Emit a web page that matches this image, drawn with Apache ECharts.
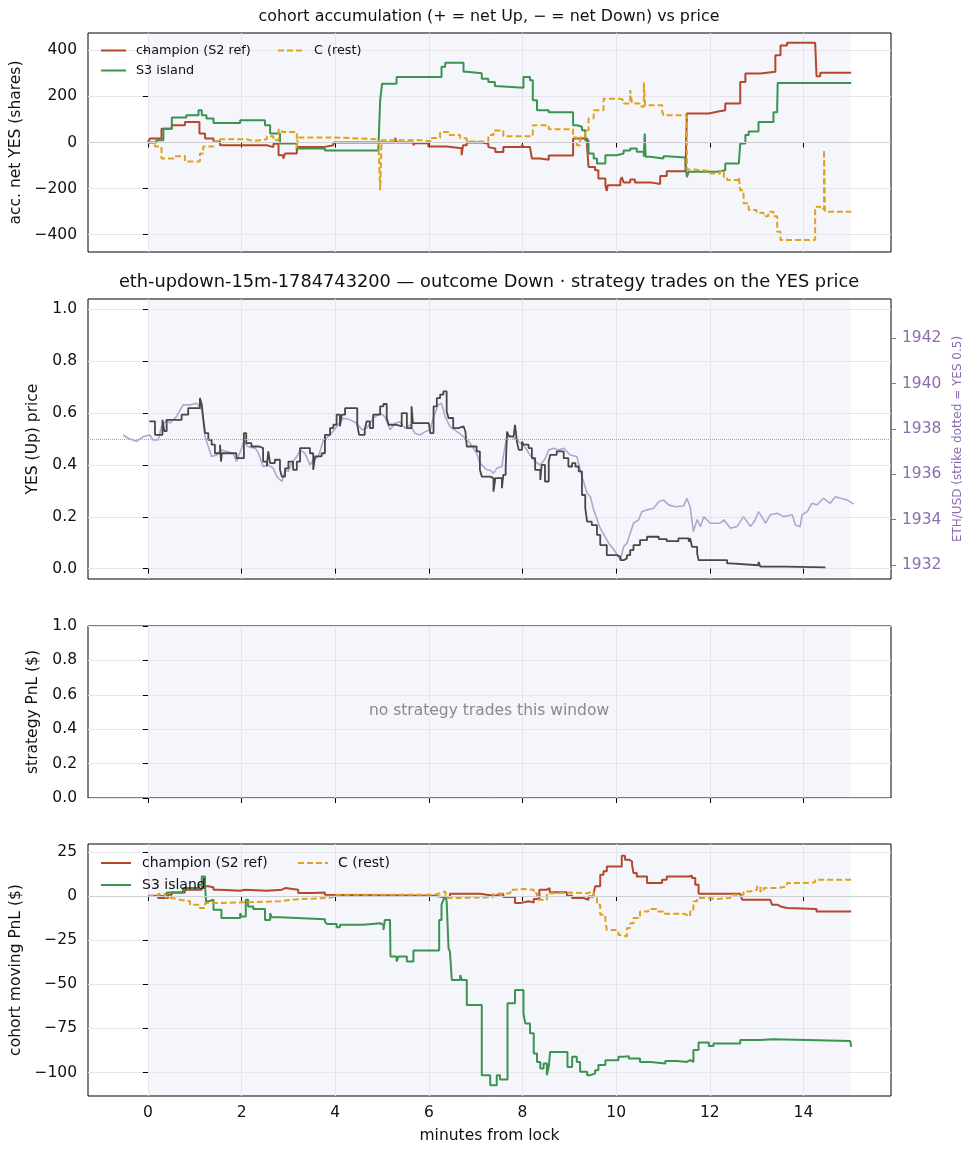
<!DOCTYPE html>
<html>
<head>
<meta charset="utf-8">
<script src="https://cdn.jsdelivr.net/npm/echarts@6/dist/echarts.min.js"></script>
<style>
html, body { margin: 0; padding: 0; background: #fff; }
#main { width: 973px; height: 1156px; }
</style>
</head>
<body>
<div id="main"></div>
<script>
// tick values
var xTicks = [0, 2, 4, 6, 8, 10, 12, 14];
var accTicks = [-400, -200, 0, 200, 400];
var yesTicks = [0, 0.2, 0.4, 0.6, 0.8, 1.0];
var ethTicks = [1932, 1934, 1936, 1938, 1940, 1942];
var pnlTicks = [-100, -75, -50, -25, 0, 25];

// cohort accumulation, net YES shares  [minute, shares]
var accChamp = [[0,0],[0.04,17],[0.29,60],[0.51,75],[0.79,89],[1.10,39],[1.22,17],[1.40,4],[1.54,-12],[2.54,-20],[2.68,-5],[2.79,-55],[2.89,-70],[2.93,-48],[3.18,-20],[3.75,-12],[3.96,0],[5.28,20],[5.31,0],[5.67,-12],[5.70,-3],[5.99,-17],[6.38,-25],[6.70,-55],[6.73,-12],[6.81,0],[7.13,-5],[7.27,-20],[7.31,-26],[7.42,-41],[7.59,-20],[7.99,-10],[8.02,-20],[8.16,-26],[8.20,-69],[8.38,-75],[8.56,-56],[9.08,17],[9.38,-20],[9.41,-106],[9.55,-120],[9.62,-156],[9.77,-185],[9.80,-210],[9.82,-185],[10.09,-165],[10.12,-150],[10.16,-173],[10.30,-160],[10.40,-173],[10.73,-180],[10.94,-145],[11.08,-125],[11.48,-117],[11.51,126],[11.98,133],[12.15,140],[12.33,169],[12.65,262],[12.76,299],[13.08,307],[13.40,378],[13.51,421],[13.65,433],[14.25,433],[14.28,287],[14.36,303],[15.02,303]];
var accS3 = [[0,0],[0.18,10],[0.33,60],[0.51,108],[0.82,118],[1.08,140],[1.15,118],[1.25,104],[1.40,85],[1.97,97],[2.50,75],[2.61,39],[2.82,-4],[3.18,-26],[3.78,-35],[4.92,-35],[4.96,183],[5.00,255],[5.31,284],[6.27,329],[6.35,346],[6.74,307],[6.81,300],[7.13,276],[7.27,262],[7.41,245],[7.45,238],[8.02,284],[8.16,270],[8.22,183],[8.31,140],[8.56,131],[9.08,75],[9.16,68],[9.27,53],[9.34,10],[9.41,-48],[9.52,-69],[9.59,-91],[9.77,-55],[10.01,-48],[10.16,-35],[10.30,-26],[10.44,-40],[10.59,-62],[10.61,39],[10.63,-62],[10.73,-69],[11.01,-60],[11.08,-65],[11.48,-83],[11.51,-150],[11.55,-127],[12.15,-120],[12.33,-91],[12.62,-95],[12.65,-4],[12.76,32],[12.83,48],[13.04,89],[13.36,131],[13.44,160],[13.45,258],[15.02,258]];
var accRest = [[0,0],[0.15,-17],[0.29,-69],[0.56,-60],[0.68,-58],[0.79,-82],[1.11,-48],[1.18,-17],[1.40,4],[1.54,14],[2.11,7],[2.25,14],[2.54,27],[2.68,10],[2.79,56],[2.86,46],[3.18,-26],[3.20,22],[3.96,14],[4.92,14],[4.96,-207],[4.99,10],[5.81,5],[6.03,20],[6.24,46],[6.42,32],[6.67,18],[6.81,4],[7.27,32],[7.38,52],[7.59,27],[8.22,75],[8.56,58],[9.08,22],[9.16,-12],[9.23,22],[9.34,53],[9.41,104],[9.52,140],[9.73,190],[10.09,183],[10.16,169],[10.30,227],[10.34,169],[10.54,155],[10.59,260],[10.62,162],[10.98,137],[11.01,118],[11.51,-117],[11.65,-124],[12.01,-134],[12.22,-124],[12.30,-150],[12.37,-163],[12.62,-150],[12.65,-207],[12.72,-264],[12.83,-293],[13.00,-305],[13.15,-320],[13.25,-300],[13.36,-320],[13.44,-387],[13.51,-423],[14.25,-279],[14.36,-290],[14.44,-32],[14.46,-300],[15.02,-300]];

// YES (Up) price and ETH/USD  [minute, value]
var yesPx = [[0.03,0.568],[0.15,0.516],[0.31,0.574],[0.35,0.53],[0.40,0.574],[0.72,0.594],[0.86,0.619],[1.11,0.658],[1.15,0.632],[1.18,0.581],[1.22,0.523],[1.29,0.497],[1.36,0.478],[1.43,0.445],[1.54,0.478],[1.56,0.413],[1.58,0.445],[1.89,0.426],[2.05,0.523],[2.10,0.484],[2.21,0.471],[2.38,0.465],[2.46,0.413],[2.54,0.394],[2.57,0.452],[2.61,0.407],[2.71,0.42],[2.82,0.381],[2.86,0.355],[2.93,0.387],[3.00,0.413],[3.10,0.381],[3.18,0.413],[3.25,0.465],[3.46,0.445],[3.53,0.381],[3.57,0.433],[3.71,0.445],[3.78,0.516],[3.89,0.542],[3.96,0.555],[4.03,0.594],[4.10,0.549],[4.14,0.594],[4.21,0.619],[4.47,0.555],[4.51,0.516],[4.63,0.536],[4.67,0.568],[4.74,0.542],[4.81,0.594],[4.96,0.626],[5.03,0.635],[5.10,0.581],[5.14,0.555],[5.31,0.549],[5.42,0.600],[5.53,0.542],[5.63,0.626],[5.66,0.561],[6.00,0.561],[6.03,0.523],[6.10,0.626],[6.17,0.658],[6.24,0.671],[6.31,0.684],[6.38,0.607],[6.42,0.581],[6.52,0.542],[6.63,0.549],[6.74,0.542],[6.78,0.529],[6.81,0.471],[7.02,0.452],[7.09,0.381],[7.13,0.355],[7.31,0.349],[7.38,0.297],[7.42,0.349],[7.56,0.31],[7.59,0.362],[7.64,0.387],[7.67,0.529],[7.71,0.51],[7.81,0.51],[7.84,0.555],[7.88,0.49],[7.92,0.458],[7.99,0.49],[8.02,0.478],[8.13,0.465],[8.20,0.426],[8.27,0.381],[8.38,0.342],[8.41,0.40],[8.48,0.336],[8.56,0.413],[8.59,0.439],[8.73,0.452],[8.88,0.426],[8.98,0.394],[9.06,0.407],[9.13,0.394],[9.20,0.375],[9.27,0.284],[9.34,0.233],[9.38,0.181],[9.48,0.168],[9.59,0.130],[9.66,0.091],[9.80,0.052],[10.02,0.046],[10.09,0.033],[10.16,0.039],[10.23,0.052],[10.30,0.071],[10.37,0.091],[10.51,0.110],[10.66,0.123],[10.91,0.114],[11.08,0.106],[11.33,0.117],[11.55,0.104],[11.58,0.117],[11.62,0.084],[11.73,0.059],[11.76,0.033],[12.05,0.039],[12.08,0.033],[12.37,0.020],[12.44,0.013],[13.04,0.026],[13.08,0.008],[13.60,0.005],[14.47,0.003]];
var ethUsd = [[-0.53,1937.73],[-0.49,1937.80],[-0.42,1937.59],[-0.24,1937.45],[-0.10,1937.66],[0.04,1937.73],[0.11,1937.51],[0.22,1937.51],[0.29,1938.10],[0.40,1938.40],[0.47,1938.25],[0.61,1938.54],[0.75,1939.06],[0.90,1939.06],[1.04,1939.13],[1.15,1938.84],[1.22,1937.66],[1.29,1937.22],[1.36,1936.78],[1.47,1936.85],[1.57,1937.07],[1.68,1937.00],[1.82,1936.93],[1.89,1936.56],[2.00,1937.15],[2.04,1937.44],[2.14,1937.22],[2.29,1937.15],[2.36,1936.93],[2.46,1936.34],[2.57,1936.41],[2.68,1936.26],[2.75,1935.90],[2.86,1935.68],[2.93,1936.19],[3.00,1936.12],[3.07,1936.49],[3.18,1936.78],[3.25,1937.07],[3.35,1936.93],[3.46,1936.41],[3.53,1936.63],[3.64,1936.78],[3.75,1937.51],[3.89,1937.73],[4.03,1938.10],[4.17,1938.47],[4.32,1938.40],[4.46,1938.25],[4.57,1937.96],[4.67,1938.03],[4.81,1938.47],[4.96,1938.69],[5.06,1938.54],[5.17,1937.96],[5.28,1938.25],[5.38,1938.32],[5.49,1938.03],[5.60,1938.18],[5.70,1937.81],[5.81,1937.73],[5.92,1937.88],[6.03,1937.96],[6.10,1938.54],[6.20,1939.06],[6.27,1939.13],[6.35,1938.54],[6.45,1938.10],[6.60,1937.88],[6.74,1937.66],[6.88,1937.37],[7.02,1936.93],[7.09,1936.49],[7.24,1936.19],[7.31,1936.19],[7.38,1936.04],[7.45,1936.26],[7.56,1936.34],[7.59,1936.78],[7.67,1937.73],[7.74,1937.66],[7.84,1937.59],[7.92,1937.44],[8.02,1937.29],[8.16,1936.85],[8.27,1936.56],[8.38,1936.41],[8.49,1936.71],[8.56,1937.07],[8.66,1937.15],[8.77,1937.07],[8.88,1937.15],[9.02,1936.85],[9.16,1936.78],[9.27,1935.90],[9.38,1935.16],[9.45,1935.01],[9.52,1934.43],[9.66,1933.62],[9.84,1932.96],[9.98,1932.59],[10.09,1932.22],[10.16,1932.81],[10.23,1932.96],[10.30,1933.40],[10.37,1933.84],[10.48,1933.99],[10.55,1934.35],[10.66,1934.43],[10.80,1934.50],[10.91,1934.79],[11.01,1934.87],[11.12,1934.65],[11.26,1934.57],[11.44,1934.60],[11.51,1934.94],[11.58,1934.57],[11.65,1933.47],[11.73,1934.00],[11.80,1933.69],[11.87,1934.13],[12.01,1933.84],[12.22,1933.84],[12.30,1933.99],[12.44,1933.62],[12.58,1933.69],[12.72,1934.13],[12.87,1933.69],[12.97,1933.99],[13.04,1934.35],[13.11,1934.13],[13.19,1933.84],[13.29,1934.21],[13.44,1934.28],[13.58,1934.13],[13.76,1934.21],[13.83,1933.76],[13.93,1933.69],[13.97,1934.21],[14.08,1934.35],[14.18,1934.72],[14.29,1934.65],[14.43,1934.94],[14.57,1934.72],[14.68,1935.01],[14.79,1934.94],[14.93,1934.87],[15.07,1934.69]];
var strikeYes = 0.5;

// cohort moving PnL ($)  [minute, dollars]
var pnlChamp = [[0,0.2],[0.22,-1.1],[0.43,0.7],[0.51,2.0],[0.79,3.6],[1.15,5.5],[1.29,5.0],[1.40,3.6],[1.54,3.0],[1.97,3.6],[2.07,3.0],[2.54,3.6],[2.86,4.5],[2.93,3.6],[3.21,1.7],[3.53,2.0],[3.78,0.7],[3.82,0.2],[6.10,-0.6],[6.31,-1.1],[6.35,-0.6],[6.45,1.3],[7.09,0.7],[7.24,0.2],[7.41,1.3],[7.59,-0.6],[7.84,-4.0],[7.95,-3.0],[8.13,-3.6],[8.24,-1.7],[8.36,3.6],[8.52,4.5],[8.58,2.1],[8.95,0.2],[9.06,-1.1],[9.30,-2.1],[9.41,-0.2],[9.52,1.6],[9.55,5.5],[9.66,12.1],[9.73,14.0],[9.80,16.8],[10.12,22.9],[10.19,20.6],[10.27,19.7],[10.34,17.8],[10.37,13.0],[10.44,11.1],[10.66,7.4],[10.98,9.3],[11.08,11.1],[11.55,11.5],[11.62,10.2],[11.69,6.4],[11.76,1.3],[12.65,1.3],[12.69,-2.1],[13.29,-2.1],[13.33,-4.9],[13.44,-5.9],[13.51,-6.8],[13.65,-7.4],[14.28,-8.7],[15.02,-8.7]];
var pnlS3 = [[0,0],[0.33,-1.1],[0.40,2.0],[0.75,4.5],[1.08,6.4],[1.15,11.1],[1.22,6.4],[1.24,-3.0],[1.29,-2.1],[1.40,-7.8],[1.57,-12.5],[1.97,-9.7],[2.00,-11.6],[2.09,-2.1],[2.14,-5.9],[2.25,-7.4],[2.50,-13.5],[2.61,-9.7],[2.64,-12.0],[2.82,-13.1],[3.78,-14.5],[3.82,-15.8],[4.03,-17.7],[4.10,-16.3],[4.60,-15.4],[4.96,-16.3],[5.03,-19.2],[5.06,-13.5],[5.17,-13.5],[5.18,-34.3],[5.31,-37.1],[5.35,-34.3],[5.53,-37.1],[5.67,-30.9],[6.22,-13.5],[6.27,-4.9],[6.31,-2.1],[6.35,0],[6.38,-3.0],[6.42,-29.6],[6.45,-31.5],[6.49,-47.5],[6.67,-44.7],[6.70,-47.5],[6.81,-61.8],[7.13,-101.5],[7.31,-107.2],[7.45,-101.5],[7.52,-104.0],[7.68,-60.8],[7.84,-53.2],[8.02,-66.5],[8.06,-72.2],[8.16,-77.8],[8.24,-89.2],[8.31,-94.0],[8.38,-97.7],[8.45,-94.9],[8.52,-101.5],[8.56,-96.8],[8.59,-88.3],[8.96,-96.8],[9.06,-91.1],[9.16,-94.0],[9.23,-99.6],[9.38,-101.5],[9.45,-100.6],[9.55,-98.7],[9.62,-95.8],[9.77,-93.0],[10.05,-91.1],[10.16,-90.7],[10.27,-92.1],[10.51,-94.0],[10.73,-94.9],[11.05,-93.4],[11.30,-94.0],[11.51,-93.0],[11.58,-94.0],[11.65,-87.3],[11.76,-83.0],[11.98,-84.9],[12.08,-83.5],[12.65,-81.6],[13.08,-81.2],[13.36,-82.2],[15.00,-82.2],[15.02,-85.4]];
var pnlRest = [[0,0],[0.22,1.3],[0.36,2.0],[0.40,-1.1],[0.51,-2.1],[0.68,-3.0],[0.90,-4.9],[1.11,-6.8],[1.22,-4.0],[1.40,-3.0],[2.82,-4.0],[2.86,-2.1],[3.07,-1.7],[3.25,-1.1],[3.82,-0.6],[3.96,0.7],[6.10,1.6],[6.24,2.6],[6.35,1.6],[6.38,-1.1],[6.60,-0.6],[7.38,1.3],[7.45,1.6],[7.74,3.6],[7.84,4.0],[8.02,3.6],[8.24,1.6],[8.31,-2.1],[8.52,1.6],[8.73,2.0],[9.02,1.6],[9.38,2.6],[9.52,-1.1],[9.59,-4.9],[9.66,-10.6],[9.77,-13.5],[9.80,-19.2],[9.98,-19.6],[10.05,-22.0],[10.12,-22.9],[10.23,-18.1],[10.30,-15.4],[10.37,-12.5],[10.51,-8.7],[10.69,-7.4],[10.87,-8.7],[11.01,-10.0],[11.44,-10.6],[11.51,-11.6],[11.58,-8.7],[11.65,-3.0],[11.73,-1.1],[11.87,-1.7],[12.15,-1.1],[12.44,0.7],[12.72,2.6],[12.87,3.6],[13.01,5.5],[13.08,2.6],[13.15,4.5],[13.44,5.5],[13.65,7.4],[14.01,7.8],[14.25,9.3],[15.02,8.9]];

var C_CHAMP = '#b5472a', C_S3 = '#3b9350', C_REST = '#dea21d';
var C_PRICE = '#474747', C_ETH = '#b5a4d1', C_ETH_AX = '#8c6bb0';
var FONT = 'DejaVu Sans';
var FS = 15.5;

var myChart = echarts.init(document.getElementById('main'), null, {renderer: 'canvas'});

function fmtNum(v) {
    return v < 0 ? '\u2212' + Math.abs(v) : String(v);
}

var gridPos = [
    {top: 33, height: 219},
    {top: 299, height: 280},
    {top: 626, height: 172},
    {top: 844, height: 252}
];

var grids = gridPos.map(function (g) {
    return {
        left: 88, right: 82, top: g.top, height: g.height,
        show: true, borderColor: '#000', borderWidth: 1,
        backgroundColor: 'transparent',
        containLabel: false, outerBoundsMode: 'none'
    };
});

var xAxes = gridPos.map(function (g, i) {
    return {
        type: 'value', gridIndex: i, min: -1.28, max: 15.87,
        axisLine: {show: false},
        axisTick: {show: true, customValues: xTicks, length: 5, lineStyle: {color: '#000'}},
        axisLabel: {show: i === 3, customValues: xTicks, fontSize: FS, color: '#111', margin: 9, fontFamily: FONT},
        splitLine: {show: true, lineStyle: {color: '#e6e6ea', width: 1}},
        name: i === 3 ? 'minutes from lock' : '',
        nameLocation: 'middle', nameGap: 32,
        nameTextStyle: {fontSize: FS, color: '#111', fontFamily: FONT}
    };
});

function yAx(grid, min, max, ticks, fmt, name, gap) {
    return {
        type: 'value', gridIndex: grid, min: min, max: max,
        axisLine: {show: false},
        axisTick: {show: true, customValues: ticks, length: 5, lineStyle: {color: '#000'}},
        axisLabel: {customValues: ticks, formatter: fmt, fontSize: FS, color: '#111', margin: 11, fontFamily: FONT},
        splitLine: {show: true, lineStyle: {color: '#e6e6ea', width: 1}},
        name: name, nameLocation: 'middle', nameGap: gap, nameRotate: 90,
        nameTextStyle: {fontSize: FS, color: '#111', fontFamily: FONT}
    };
}

var yAxes = [
    yAx(0, -475, 475, accTicks, fmtNum, 'acc. net YES (shares)', 57),
    yAx(1, -0.04, 1.04, yesTicks, function (v) { return v.toFixed(1); }, 'YES (Up) price', 42),
    {
        type: 'value', gridIndex: 1, position: 'right', min: 1931.38, max: 1943.73,
        axisLine: {show: false},
        axisTick: {show: true, customValues: ethTicks, length: 5, lineStyle: {color: C_ETH_AX}},
        axisLabel: {customValues: ethTicks, formatter: function (v) { return String(v); },
            fontSize: FS, color: C_ETH_AX, margin: 11, fontFamily: FONT},
        splitLine: {show: false},
        name: 'ETH/USD (strike dotted = YES 0.5)', nameLocation: 'middle', nameGap: 51, nameRotate: 90,
        nameTextStyle: {fontSize: 12, color: C_ETH_AX, fontFamily: FONT}
    },
    yAx(2, 0, 1, yesTicks, function (v) { return v.toFixed(1); }, 'strategy PnL ($)', 42),
    yAx(3, -113.3, 29.5, pnlTicks, fmtNum, 'cohort moving PnL ($)', 58)
];

var series = [];
// shaded trading window 0..15 min in every panel
[[0, 0], [1, 1], [2, 3], [3, 4]].forEach(function (p) {
    series.push({
        type: 'line', xAxisIndex: p[0], yAxisIndex: p[1], data: [], z: -1, silent: true,
        markArea: {silent: true, z: -1, itemStyle: {color: 'rgba(200,206,232,0.18)'},
            data: [[{xAxis: 0}, {xAxis: 15}]]}
    });
});
// zero / strike reference lines
function refLine(xi, yi, y, color, type) {
    return {
        type: 'line', xAxisIndex: xi, yAxisIndex: yi, data: [], silent: true,
        markLine: {silent: true, symbol: 'none', label: {show: false}, animation: false,
            lineStyle: {color: color, width: 1, type: type}, data: [{yAxis: y}]}
    };
}
series.push(refLine(0, 0, 0, '#cfcfcf', 'solid'));
series.push(refLine(3, 4, 0, '#cfcfcf', 'solid'));
series.push(refLine(1, 1, strikeYes, '#a99cc2', 'dotted'));

function stepSeries(name, data, xi, yi, color, dashed) {
    return {
        name: name, type: 'line', step: 'end', xAxisIndex: xi, yAxisIndex: yi,
        data: data, showSymbol: false, symbol: 'none', animation: false,
        lineStyle: {color: color, width: 2, type: dashed ? [6, 3] : 'solid'},
        itemStyle: {color: color}
    };
}
series.push(stepSeries('champion (S2 ref)', accChamp, 0, 0, C_CHAMP, false));
series.push(stepSeries('S3 island', accS3, 0, 0, C_S3, false));
series.push(stepSeries('C (rest)', accRest, 0, 0, C_REST, true));

series.push({
    name: 'ETH/USD', type: 'line', xAxisIndex: 1, yAxisIndex: 2, data: ethUsd,
    showSymbol: false, symbol: 'none', animation: false,
    lineStyle: {color: C_ETH, width: 1.6}
});
series.push({
    name: 'YES price', type: 'line', step: 'end', xAxisIndex: 1, yAxisIndex: 1, data: yesPx,
    showSymbol: false, symbol: 'none', animation: false,
    lineStyle: {color: C_PRICE, width: 1.8}
});

series.push(stepSeries('champion (S2 ref)', pnlChamp, 3, 4, C_CHAMP, false));
series.push(stepSeries('S3 island', pnlS3, 3, 4, C_S3, false));
series.push(stepSeries('C (rest)', pnlRest, 3, 4, C_REST, true));

function legendBlock(names, left, top, size, w, gap, pad) {
    return {
        data: names, orient: 'vertical', left: left, top: top, padding: 0,
        itemWidth: w, itemHeight: 10, itemGap: gap,
        selectedMode: false,
        itemStyle: {opacity: 0, color: 'transparent', borderColor: 'transparent', borderWidth: 0},
        textStyle: {fontSize: size, color: '#111', fontFamily: FONT, padding: [0, 0, 0, pad]}
    };
}

option1 = {
    animation: false,
    textStyle: {fontFamily: FONT},
    grid: grids,
    xAxis: xAxes,
    yAxis: yAxes,
    legend: [
        legendBlock(['champion (S2 ref)', 'S3 island'], 100, 44, 12.8, 25, 7, 5),
        legendBlock(['C (rest)'], 277, 44, 12.8, 25, 7, 6),
        legendBlock(['champion (S2 ref)', 'S3 island'], 100, 856, 14, 30, 8, 6),
        legendBlock(['C (rest)'], 297, 856, 14, 30, 8, 5)
    ],
    graphic: [
        {type: 'text', x: 489, y: 17, z: 10, style: {text: 'cohort accumulation (+ = net Up, \u2212 = net Down) vs price',
            fontSize: 15.9, fontFamily: FONT, fill: '#111', align: 'center', verticalAlign: 'middle'}},
        {type: 'text', x: 489, y: 282, z: 10, style: {text: 'eth-updown-15m-1784743200 \u2014 outcome Down \u00b7 strategy trades on the YES price',
            fontSize: 17.8, fontFamily: FONT, fill: '#111', align: 'center', verticalAlign: 'middle'}},
        {type: 'text', x: 489, y: 711, z: 10, style: {text: 'no strategy trades this window',
            fontSize: FS, fontFamily: FONT, fill: '#8a8a8a', align: 'center', verticalAlign: 'middle'}}
    ],
    series: series
};

myChart1 = myChart;
myChart1.setOption(option1);
</script>
</body>
</html>
